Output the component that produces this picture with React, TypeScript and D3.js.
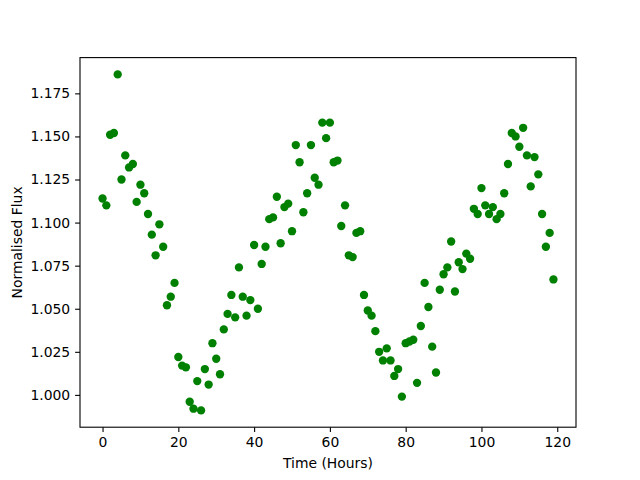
import React, { useEffect, useRef } from 'react';
import * as d3 from 'd3';

// hours 0..119, one reading per hour
const hours = d3.range(0, 120);
const flux = [
  1.114, 1.110, 1.151, 1.152, 1.186, 1.125, 1.139, 1.132, 1.134, 1.112,
  1.122, 1.117, 1.105, 1.093, 1.081, 1.099, 1.086, 1.052, 1.057, 1.065,
  1.022, 1.017, 1.016, 0.996, 0.992, 1.008, 0.991, 1.015, 1.006, 1.030,
  1.021, 1.012, 1.038, 1.047, 1.058, 1.045, 1.074, 1.057, 1.046, 1.055,
  1.087, 1.050, 1.076, 1.086, 1.102, 1.103, 1.115, 1.088, 1.109, 1.111,
  1.095, 1.145, 1.135, 1.106, 1.117, 1.145, 1.126, 1.122, 1.158, 1.149,
  1.158, 1.135, 1.136, 1.098, 1.110, 1.081, 1.080, 1.094, 1.095, 1.058,
  1.049, 1.046, 1.037, 1.025, 1.020, 1.027, 1.020, 1.011, 1.015, 0.999,
  1.030, 1.031, 1.032, 1.007, 1.040, 1.065, 1.051, 1.028, 1.013, 1.061,
  1.070, 1.074, 1.089, 1.060, 1.077, 1.073, 1.082, 1.079, 1.108, 1.105,
  1.120, 1.110, 1.105, 1.109, 1.102, 1.105, 1.117, 1.134, 1.152, 1.150,
  1.144, 1.155, 1.139, 1.121, 1.138, 1.128, 1.105, 1.086, 1.094, 1.067,
];
const xTicks = [0, 20, 40, 60, 80, 100, 120];
const yTicks = [1.0, 1.025, 1.05, 1.075, 1.1, 1.125, 1.15, 1.175];

const App = () => {
  const ref = useRef<SVGSVGElement | null>(null);

  useEffect(() => {
    if (!ref.current) return;
    const svg = d3.select(ref.current);
    svg.selectAll('*').remove();

    const width = 640;
    const height = 480;
    const margin = { top: 57.6, right: 64, bottom: 52.8, left: 80 };
    const font = 'DejaVu Sans, sans-serif';

    // matplotlib style 5% padding on the data range
    const xPad = (d3.max(hours)! - d3.min(hours)!) * 0.05;
    const yMin = d3.min(flux)!;
    const yMax = d3.max(flux)!;
    const yPad = (yMax - yMin) * 0.05;

    const x = d3.scaleLinear()
      .domain([d3.min(hours)! - xPad, d3.max(hours)! + xPad])
      .range([margin.left, width - margin.right]);
    const y = d3.scaleLinear()
      .domain([yMin - yPad, yMax + yPad])
      .range([height - margin.bottom, margin.top]);

    svg.append('rect')
      .attr('width', width)
      .attr('height', height)
      .attr('fill', '#fff');

    // dots
    svg.append('g')
      .selectAll('circle')
      .data(hours)
      .enter()
      .append('circle')
      .attr('cx', d => x(d))
      .attr('cy', (d, i) => y(flux[i]))
      .attr('r', 4.17)
      .attr('fill', '#008000');

    // axes
    const xAxis = svg.append('g')
      .attr('transform', `translate(0, ${height - margin.bottom})`)
      .call(d3.axisBottom(x).tickValues(xTicks).tickSize(4.9).tickPadding(4.9).tickFormat(d3.format('d')));
    const yAxis = svg.append('g')
      .attr('transform', `translate(${margin.left}, 0)`)
      .call(d3.axisLeft(y).tickValues(yTicks).tickSize(4.9).tickPadding(4.9).tickFormat(d3.format('.3f')));

    [xAxis, yAxis].forEach(a => {
      a.select('.domain').remove();
      a.selectAll('line').attr('stroke', '#000').attr('stroke-width', 1.1);
      a.selectAll('text')
        .attr('fill', '#000')
        .style('font-family', font)
        .style('font-size', '13.9px');
    });

    // frame
    svg.append('rect')
      .attr('x', margin.left)
      .attr('y', margin.top)
      .attr('width', width - margin.left - margin.right)
      .attr('height', height - margin.top - margin.bottom)
      .attr('fill', 'none')
      .attr('stroke', '#000')
      .attr('stroke-width', 1.1);

    // labels
    svg.append('text')
      .attr('x', (margin.left + width - margin.right) / 2)
      .attr('y', 468)
      .attr('text-anchor', 'middle')
      .style('font-family', font)
      .style('font-size', '13.9px')
      .text('Time (Hours)');

    svg.append('text')
      .attr('transform', `translate(22, ${(margin.top + height - margin.bottom) / 2}) rotate(-90)`)
      .attr('text-anchor', 'middle')
      .style('font-family', font)
      .style('font-size', '13.9px')
      .text('Normalised Flux');
  }, []);

  return (
    <svg
      ref={ref}
      width={640}
      height={480}
      style={{ position: 'absolute', left: 0, top: 0 }}
    />
  );
};

export default App;
